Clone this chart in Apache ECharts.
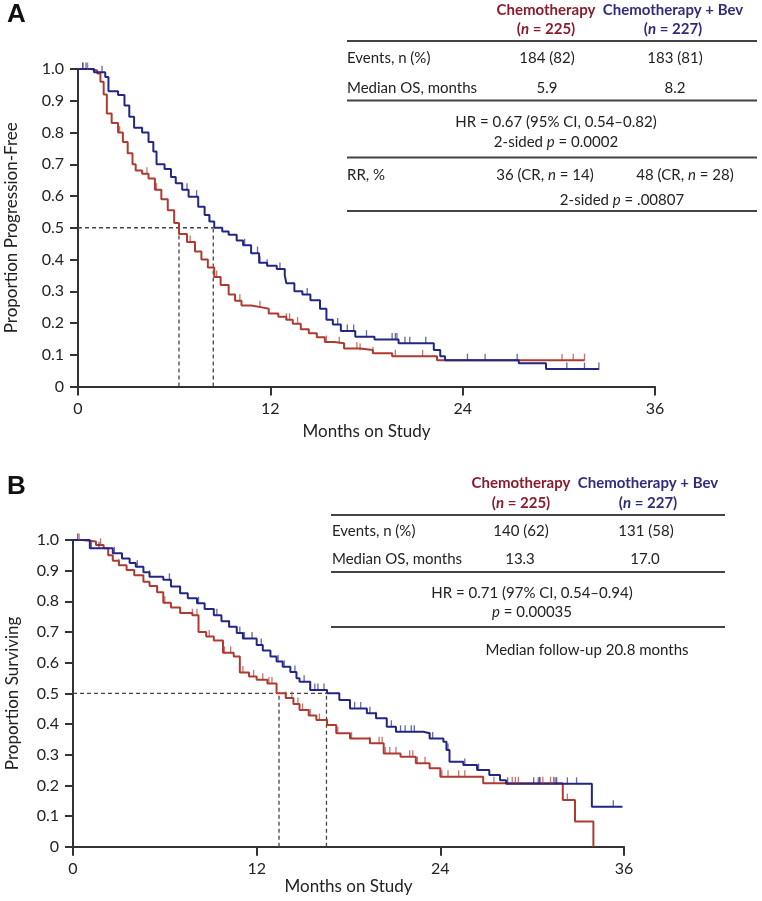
<!DOCTYPE html>
<html><head><meta charset="utf-8">
<script src="https://cdn.jsdelivr.net/npm/echarts@6/dist/echarts.min.js"></script>
<style>html,body{margin:0;padding:0;background:#fff}#c{width:762px;height:901px}</style>
</head><body><div id="c"></div>
<script>
// ---------- DATA ----------
const xTicks = [0, 12, 24, 36];
// Panel A: progression-free survival (time in months, proportion after that time)
const pfsChemoT = [0,0.8,1.2,1.4,1.6,1.8,2.1,2.5,2.8,3.1,3.4,3.6,4.0,4.4,4.8,5.2,5.6,6.0,6.3,6.8,7.3,7.7,8.1,8.5,8.9,9.4,9.8,10.2,10.8,11.4,11.9,12.5,13.0,13.4,13.9,14.4,14.9,15.4,16.0,16.6,17.6,18.4,19.6,22.4,31.6];
const pfsChemoS = [1.0,0.995,0.986,0.96,0.92,0.86,0.83,0.80,0.77,0.735,0.70,0.68,0.67,0.655,0.62,0.59,0.555,0.515,0.48,0.455,0.425,0.40,0.375,0.345,0.32,0.29,0.27,0.255,0.25,0.245,0.23,0.22,0.21,0.198,0.18,0.168,0.155,0.14,0.136,0.12,0.115,0.105,0.095,0.083,0.083];
const pfsBevT = [0,1.0,1.7,1.9,2.5,2.9,3.2,3.5,4.0,4.4,4.7,4.9,5.4,5.8,6.1,6.5,6.9,7.5,7.9,8.2,8.5,9.0,9.4,9.9,10.3,10.8,11.3,11.8,12.4,12.9,13.0,13.5,14.0,14.5,15.1,15.5,15.9,16.4,17.3,18.5,20.0,22.2,22.6,22.9,27.5,29.2,32.5];
const pfsBevS = [1.0,0.99,0.975,0.93,0.918,0.885,0.85,0.815,0.80,0.77,0.74,0.70,0.685,0.66,0.64,0.62,0.598,0.566,0.54,0.52,0.50,0.488,0.478,0.46,0.445,0.42,0.39,0.38,0.37,0.35,0.325,0.30,0.29,0.272,0.245,0.21,0.195,0.175,0.157,0.148,0.136,0.115,0.095,0.083,0.073,0.055,0.055];
const pfsChemoCens = [0.3,0.6,2.6,4.3,4.9,7.0,8.65,10.1,11.35,13.0,13.2,13.7,15.5,16.3,17.4,17.6,18.4,19.8,21.5,30.2,30.9,31.6];
const pfsBevCens = [0.3,0.5,1.5,6.8,7.4,8.2,10.4,11.2,11.35,11.8,12.6,14.3,15.1,16.2,16.8,17.2,18.0,19.6,19.8,19.9,20.4,20.7,21.7,24.3,25.4,27.4,30.5,31.6,32.5];
const pfsMedian = [6.3, 8.44];   // chemo, chemo + bev (drawn positions)

// Panel B: overall survival
const osChemoT = [0,0.6,1.5,2.0,2.3,2.6,3.0,3.5,4.0,4.6,5.0,5.5,5.9,6.4,7.0,7.8,8.2,8.7,9.2,9.8,10.5,10.9,11.5,12.0,12.7,13.3,13.9,14.4,14.8,15.4,15.9,16.6,17.2,18.1,19.4,20.3,21.4,22.4,23.3,24.0,26.8,32.0,32.8,34.0];
const osChemoS = [1.0,0.995,0.984,0.973,0.95,0.932,0.918,0.902,0.885,0.864,0.85,0.83,0.795,0.78,0.762,0.755,0.70,0.685,0.672,0.632,0.62,0.568,0.555,0.544,0.532,0.50,0.485,0.465,0.446,0.428,0.413,0.397,0.37,0.353,0.337,0.304,0.293,0.272,0.256,0.228,0.207,0.152,0.082,0];
const osBevT = [0,1.1,2.6,3.2,3.7,4.1,4.6,5.0,5.9,6.4,7.0,7.5,8.1,8.6,9.2,9.7,10.2,10.7,11.1,12.0,12.4,12.9,13.3,13.7,14.2,14.6,14.8,15.5,16.6,17.4,18.1,19.2,19.8,20.5,21.1,22.9,23.3,24.2,24.4,24.6,25.5,26.4,27.2,27.9,28.3,33.9,35.9];
const osBevS = [1.0,0.973,0.957,0.94,0.925,0.913,0.895,0.88,0.87,0.848,0.826,0.81,0.794,0.775,0.755,0.735,0.717,0.697,0.679,0.658,0.64,0.62,0.604,0.587,0.57,0.549,0.538,0.511,0.50,0.478,0.451,0.435,0.419,0.391,0.375,0.37,0.353,0.342,0.315,0.277,0.266,0.25,0.234,0.217,0.205,0.13,0.13];
const osChemoCens = [0.4,1.8,3.0,5.5,6.0,7.8,8.1,8.9,9.9,10.3,11.1,11.8,12.4,12.8,13.0,13.9,14.3,14.7,15.0,15.5,16.1,16.6,17.3,18.2,19.4,20.0,20.2,20.4,20.7,21.1,22.0,22.2,22.5,23.0,24.1,24.5,25.2,25.6,27.5,28.7,28.9,29.1,30.5,30.7,31.2,31.4,32.3];
const osBevCens = [0.3,1.2,1.7,2.7,4.2,5.0,6.3,7.0,8.2,9.4,10.2,10.9,11.1,11.2,11.7,12.3,13.4,13.8,14.5,15.1,15.5,15.8,16.0,16.4,18.4,18.8,19.4,19.8,20.8,21.4,21.7,22.1,22.3,23.3,23.5,24.5,25.6,26.5,28.4,30.1,30.4,30.5,31.5,31.6,32.3,32.9,35.3];
const osMedian = [13.46, 16.56];

// ---------- HELPERS ----------
const RED = '#ad3b32', BLUE = '#232683', HRED = '#8a1b2e', HBLUE = '#302c7c';
const FONT = 'Lato, "Open Sans", sans-serif';
function pairs(t, s){ return t.map((v,i)=>[v, s[i]]); }
function stepAt(t, s, x){ let y = s[0]; for (let i=0;i<t.length;i++){ if (t[i] <= x) y = s[i]; } return y; }
function cens(ct, t, s){ return ct.map(x => [x, stepAt(t, s, x)]); }

function curve(name, t, s, color, idx){
  return { type:'line', name, xAxisIndex:idx, yAxisIndex:idx, step:'end', data:pairs(t,s),
    showSymbol:false, symbol:'none', lineStyle:{color, width:2}, z:3, animation:false };
}
function censSeries(ct, t, s, color, idx){
  return { type:'scatter', xAxisIndex:idx, yAxisIndex:idx, data:cens(ct,t,s),
    symbol:'rect', symbolSize:[1.3,7], symbolOffset:[0,-3],
    itemStyle:{color, opacity:0.7}, z:4, animation:false };
}
function medianSeries(med, idx){
  const dash = {color:'#444', width:1.3, type:[4,3]};
  const mk = d => ({ type:'line', xAxisIndex:idx, yAxisIndex:idx, data:d, showSymbol:false, symbol:'none', lineStyle:dash, z:2, animation:false });
  return [ mk([[0,0.5],[Math.max(...med),0.5]]), mk([[med[0],0],[med[0],0.5]]), mk([[med[1],0],[med[1],0.5]]) ];
}
function xAx(idx, gap){
  return { gridIndex:idx, type:'value', min:0, max:36, interval:12, name:'Months on Study', nameLocation:'middle', nameGap:gap,
    nameTextStyle:{fontFamily:FONT, fontSize:17, color:'#222'},
    axisLine:{lineStyle:{color:'#333', width:2}}, axisTick:{length:9, lineStyle:{color:'#333', width:2}},
    axisLabel:{fontFamily:FONT, fontSize:16, color:'#222', margin:14}, splitLine:{show:false} };
}
function yAx(idx, name, gap){
  return { gridIndex:idx, type:'value', min:0, max:1, interval:0.1, name, nameLocation:'middle', nameGap:gap,
    nameTextStyle:{fontFamily:FONT, fontSize:17, color:'#222'},
    axisLine:{show:true, lineStyle:{color:'#333', width:2}}, axisTick:{show:true, length:8, lineStyle:{color:'#333', width:2}},
    axisLabel:{fontFamily:FONT, fontSize:16, color:'#222', margin:14, formatter:v => v===0 ? '0' : v.toFixed(1)}, splitLine:{show:false} };
}

// ---------- TABLES (text annotations) ----------
function rule(x1, x2, y){
  return { type:'line', shape:{x1, y1:y, x2, y2:y}, style:{stroke:'#444', lineWidth:2.2} };
}
function gtext(x, y, richText, align, size, weight, color){
  return { type:'text', x, y, style:{ text:richText, align:align||'center', verticalAlign:'middle',
    fontFamily:FONT, fontSize:size||15, fontWeight:weight||'normal', fill:color||'#222',
    rich:{ i:{fontStyle:'italic', fontFamily:FONT, fontSize:size||15, fontWeight:weight||'normal', fill:color||'#222'} } } };
}
const graphics = [
  { type:'text', x:7, y:15, style:{ text:'A', font:'bold 26px "Liberation Sans", Arial, sans-serif', fill:'#111', verticalAlign:'middle' } },
  { type:'text', x:7, y:487, style:{ text:'B', font:'bold 26px "Liberation Sans", Arial, sans-serif', fill:'#111', verticalAlign:'middle' } },
  // Table A
  gtext(546, 10, 'Chemotherapy', 'center', 15, 'bold', HRED),
  gtext(546, 29, '({i|n} = 225)', 'center', 15, 'bold', HRED),
  gtext(673, 10, 'Chemotherapy + Bev', 'center', 15, 'bold', HBLUE),
  gtext(673, 29, '({i|n} = 227)', 'center', 15, 'bold', HBLUE),
  rule(347, 757, 41),
  gtext(347, 58, 'Events, n (%)', 'left'),
  gtext(547, 58, '184 (82)'),
  gtext(675, 58, '183 (81)'),
  gtext(347, 88, 'Median OS, months', 'left'),
  gtext(547, 88, '5.9'),
  gtext(675, 88, '8.2'),
  rule(347, 757, 100.5),
  gtext(556, 122, 'HR = 0.67 (95% CI, 0.54–0.82)'),
  gtext(556, 142, '2-sided {i|p} = 0.0002'),
  rule(347, 757, 157.5),
  gtext(347, 175, 'RR, %', 'left'),
  gtext(545, 175, '36 (CR, {i|n} = 14)'),
  gtext(685, 175, '48 (CR, {i|n} = 28)'),
  gtext(622, 200, '2-sided {i|p} = .00807'),
  rule(347, 757, 211),
  // Table B
  gtext(521, 483, 'Chemotherapy', 'center', 15, 'bold', HRED),
  gtext(521, 503, '({i|n} = 225)', 'center', 15, 'bold', HRED),
  gtext(648, 483, 'Chemotherapy + Bev', 'center', 15, 'bold', HBLUE),
  gtext(648, 503, '({i|n} = 227)', 'center', 15, 'bold', HBLUE),
  rule(331, 725, 515),
  gtext(332, 531, 'Events, n (%)', 'left'),
  gtext(521, 531, '140 (62)'),
  gtext(646, 531, '131 (58)'),
  gtext(332, 559, 'Median OS, months', 'left'),
  gtext(520, 559, '13.3'),
  gtext(645, 559, '17.0'),
  rule(331, 725, 572),
  gtext(532, 593, 'HR = 0.71 (97% CI, 0.54–0.94)'),
  gtext(532, 612, '{i|p} = 0.00035'),
  rule(331, 725, 627),
  gtext(587, 650, 'Median follow-up 20.8 months')
];

const chart = echarts.init(document.getElementById('c'), null, {renderer:'canvas'});
chart.setOption({
  animation:false,
  backgroundColor:'#fff',
  grid:[ {left:78, top:69, width:577, height:317.5, containLabel:false, outerBoundsMode:'none'},
         {left:73, top:540, width:551, height:306.7, containLabel:false, outerBoundsMode:'none'} ],
  xAxis:[ xAx(0, 37), xAx(1, 31) ],
  yAxis:[ yAx(0,'Proportion Progression-Free', 58), yAx(1,'Proportion Surviving', 52) ],
  series:[
    ...medianSeries(pfsMedian, 0),
    curve('Chemotherapy', pfsChemoT, pfsChemoS, RED, 0),
    curve('Chemotherapy + Bev', pfsBevT, pfsBevS, BLUE, 0),
    censSeries(pfsChemoCens, pfsChemoT, pfsChemoS, RED, 0),
    censSeries(pfsBevCens, pfsBevT, pfsBevS, BLUE, 0),
    ...medianSeries(osMedian, 1),
    curve('Chemotherapy', osChemoT, osChemoS, RED, 1),
    curve('Chemotherapy + Bev', osBevT, osBevS, BLUE, 1),
    censSeries(osChemoCens, osChemoT, osChemoS, RED, 1),
    censSeries(osBevCens, osBevT, osBevS, BLUE, 1)
  ],
  graphic:graphics
});
</script></body></html>
